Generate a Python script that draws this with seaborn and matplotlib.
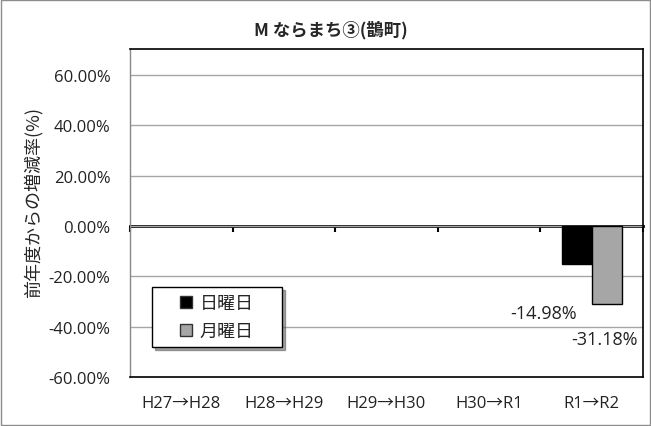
import matplotlib
matplotlib.use("Agg")
import matplotlib.pyplot as plt
import matplotlib.patches as mpatches
from matplotlib.legend_handler import HandlerBase
import seaborn as sns
import pandas as pd
import numpy as np

categories = ["H27→H28", "H28→H29", "H29→H30", "H30→R1", "R1→R2"]
sunday = [np.nan, np.nan, np.nan, np.nan, -14.98]
monday = [np.nan, np.nan, np.nan, np.nan, -31.18]
series_names = ["日曜日", "月曜日"]
yticks = [-60, -40, -20, 0, 20, 40, 60]
title = "M ならまち③(鵲町)"
ylabel = "前年度からの増減率(%)"

sns.set_theme(style="white")
plt.rcParams["font.family"] = ["Open Sans", "Noto Sans CJK JP", "DejaVu Sans"]
CJK = ["Noto Sans CJK JP", "DejaVu Sans"]

df = pd.DataFrame({
    "cat": categories * 2,
    "series": [series_names[0]] * len(categories) + [series_names[1]] * len(categories),
    "value": sunday + monday,
})

fig = plt.figure(figsize=(6.51, 4.27), dpi=100)
ax = fig.add_axes([0.1997, 0.1148, 0.9877 - 0.1997, 0.8829 - 0.1148])

palette = ["#000000", "#a6a6a6"]
sns.barplot(data=df, x="cat", y="value", hue="series", order=categories,
            hue_order=series_names, palette=palette,
            width=0.585, edgecolor="black", linewidth=1, ax=ax, legend=True)

ax.set_ylim(-60, 70.3)
ax.set_xlim(-0.5, len(categories) - 0.5)
ax.set_yticks(yticks)
ax.set_yticklabels([f"{v:.2f}%" for v in yticks], fontsize=12, color="#222222")
ax.yaxis.grid(True, color="#a6a6a6", linewidth=1)
ax.set_axisbelow(True)
ax.tick_params(axis="y", direction="out", length=6, color="#888888", width=1, pad=8)
ax.tick_params(axis="x", length=0, labelsize=12, pad=13, labelcolor="#222222")
ax.set_xlabel("")
ax.set_ylabel(ylabel, fontsize=13, family=CJK)
ax.yaxis.set_label_coords(-0.17, 0.535)

fig.text(0.508, 1 - 30 / 427, title, fontsize=12.5, fontweight="bold",
         ha="center", va="center", family=CJK)

for side in ["top", "right", "bottom"]:
    ax.spines[side].set_color("black")
    ax.spines[side].set_linewidth(1.2)
ax.spines["left"].set_color("#888888")
ax.spines["left"].set_linewidth(1)

# zero line with category boundary ticks
zero_frac = (0 - (-60)) / (70.3 - (-60))
sec = ax.secondary_xaxis(zero_frac)
sec.set_xticks(np.arange(-0.5, len(categories), 1.0))
sec.set_xticklabels([])
sec.tick_params(axis="x", direction="out", length=4, width=1.5, color="black")
sec.spines["bottom"].set_linewidth(2)
sec.spines["bottom"].set_color("black")

# value labels
offsets = [(-0.32, -19.6), (-0.02, -13.7)]
for cont, (dx, dy) in zip(ax.containers, offsets):
    for rect in cont.patches:
        h = rect.get_height()
        if np.isnan(h) or h == 0:
            continue
        xc = rect.get_x() + rect.get_width() / 2
        ax.text(xc + dx, h + dy, f"{h:.2f}%", ha="center", va="center",
                fontsize=13, color="#222222")


class SquareHandler(HandlerBase):
    def create_artists(self, legend, orig_handle, xdescent, ydescent,
                       width, height, fontsize, trans):
        s = 0.66 * fontsize
        r = mpatches.Rectangle((-xdescent + width - s, -ydescent + (height - s) / 2),
                               s, s, facecolor=orig_handle.get_facecolor(),
                               edgecolor="#333333", linewidth=1, transform=trans)
        return [r]


handles = [mpatches.Rectangle((0, 0), 1, 1, facecolor=c) for c in palette]
leg = ax.legend(handles, series_names, loc="upper left", mode="expand",
                bbox_to_anchor=(0.043, 0.085, 0.2534, 0.189), frameon=True,
                prop={"family": CJK, "size": 13},
                handler_map={mpatches.Rectangle: SquareHandler()},
                fancybox=False, shadow=True, edgecolor="black",
                handlelength=1.83, handleheight=0.7, handletextpad=0.4,
                borderpad=0.4, labelspacing=0.55, borderaxespad=0)
leg.get_frame().set_linewidth(1)
leg.get_frame().set_facecolor("white")

# outer border
fig.patches.append(mpatches.Rectangle((0.002, 0.003), 0.996, 0.994,
                                      transform=fig.transFigure, fill=False,
                                      edgecolor="#8c8c8c", linewidth=1))

fig.savefig("out.png", dpi=100)
